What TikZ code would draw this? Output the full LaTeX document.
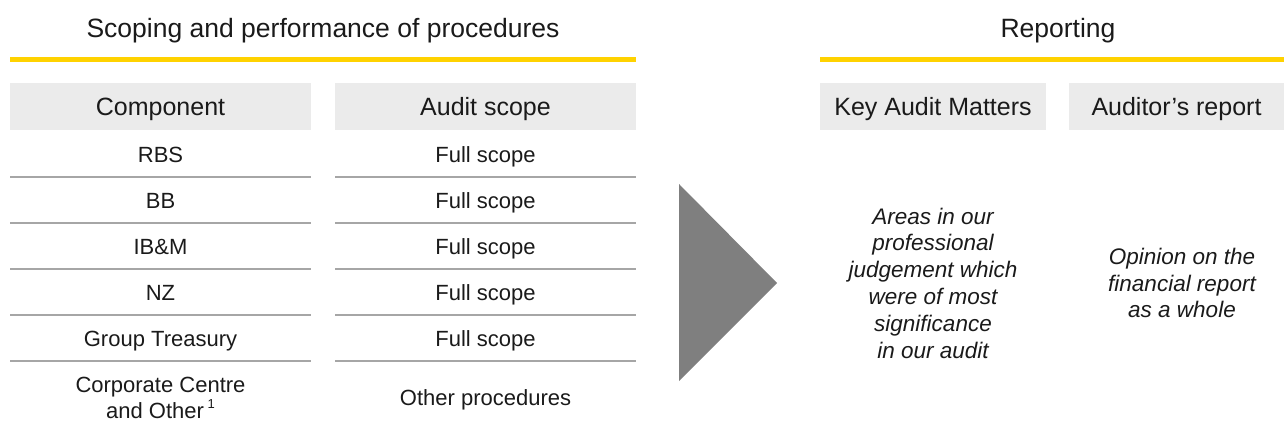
\documentclass[tikz,border=0pt]{standalone}
\usepackage{fontspec}
\setmainfont{Liberation Sans}
\definecolor{eyyellow}{HTML}{FFD200}
\definecolor{hdrgray}{HTML}{EBEBEB}
\definecolor{sepgray}{HTML}{A6A6A6}
\definecolor{trigray}{HTML}{7F7F7F}
\definecolor{txt}{HTML}{1A1A1A}
\begin{document}
\begin{tikzpicture}[x=1pt,y=-1pt,
  every node/.style={inner sep=0pt, outer sep=0pt, text=txt},
  titletext/.style={font=\fontsize{26.5}{30}\selectfont, text height=19pt, text depth=0pt},
  hdrbox/.style={fill=hdrgray, minimum height=47pt, font=\fontsize{25}{30}\selectfont, text height=17.9pt, text depth=0pt},
  celltext/.style={font=\fontsize{22}{26.5}\selectfont, text height=15.8pt, text depth=0pt},
  multitext/.style={font=\fontsize{22}{26.5}\selectfont, align=center},
  bodytext/.style={font=\fontsize{22.5}{26.8}\selectfont\itshape, align=center},
  yel/.style={draw=eyyellow, line width=5pt},
  sep/.style={draw=sepgray, line width=1.3pt},
  arrowtri/.style={fill=trigray}
]
\useasboundingbox (0,0) rectangle (1284,428);

% titles
\node[titletext] (t1) at (323,28) {Scoping and performance of procedures};
\node[titletext] (t2) at (1058,28) {Reporting};

% yellow rules
\coordinate (y1a) at (10,60);  \coordinate (y1b) at (636,60);
\coordinate (y2a) at (820,60); \coordinate (y2b) at (1284,60);
\draw[yel] (y1a) -- (y1b);
\draw[yel] (y2a) -- (y2b);

% header boxes
\node[hdrbox, minimum width=301pt] (comp) at (160.5,106.5) {Component};
\node[hdrbox, minimum width=301pt] (scope) at (485.5,106.5) {Audit scope};
\node[hdrbox, minimum width=226pt] (kam) at (933,106.5) {Key Audit Matters};
\node[hdrbox, minimum width=215pt] (rep) at (1176.5,106.5) {Auditor’s report};

% rows
\node[celltext] (c1) at (160.5,155) {RBS};
\node[celltext] (c2) at (160.5,201) {BB};
\node[celltext] (c3) at (160.5,247) {IB\&M};
\node[celltext] (c4) at (160.5,293) {NZ};
\node[celltext] (c5) at (160.5,339) {Group Treasury};
\node[multitext] (c6) at (160.5,398) {Corporate Centre\\and Other\,\raisebox{0.45em}{\fontsize{13}{13}\selectfont 1}};

\node[celltext] (s1) at (485.5,155) {Full scope};
\node[celltext] (s2) at (485.5,201) {Full scope};
\node[celltext] (s3) at (485.5,247) {Full scope};
\node[celltext] (s4) at (485.5,293) {Full scope};
\node[celltext] (s5) at (485.5,339) {Full scope};
\node[celltext] (s6) at (485.5,398) {Other procedures};

% separators
\foreach \yy in {177,223,269,315,361}{
  \draw[sep] (10,\yy) -- (311,\yy);
  \draw[sep] (335,\yy) -- (636,\yy);
}

% triangle arrow
\fill[arrowtri] (679,184) -- (777,283) -- (679,381) -- cycle;

% reporting texts
\node[bodytext] (kamtext) at (933,283) {Areas in our\\professional\\judgement which\\were of most\\significance\\in our audit};
\node[bodytext] (reptext) at (1182,283) {Opinion on the\\financial report\\as a whole};
\end{tikzpicture}
\end{document}
